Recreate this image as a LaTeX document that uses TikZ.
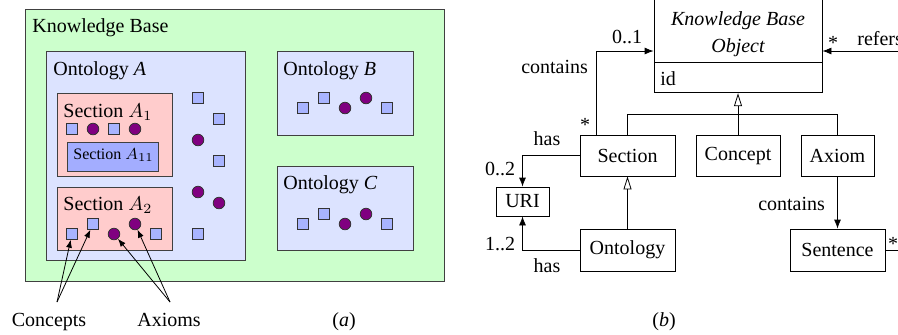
\documentclass[tikz,border=0pt]{standalone}
\usepackage{fontspec}
\setmainfont{Liberation Serif}
\usetikzlibrary{arrows.meta}

\definecolor{kbgreen}{HTML}{CCFFCC}
\definecolor{ontoblue}{HTML}{DCE3FF}
\definecolor{secpink}{HTML}{FFCCCC}
\definecolor{subblue}{HTML}{A3ADFF}
\definecolor{conceptblue}{HTML}{A8B4FF}
\definecolor{axiompurple}{HTML}{800080}

\tikzset{
  region/.style={draw=black!75},
  concept/.style={rectangle, draw=black!80, fill=conceptblue, minimum size=5.3pt, inner sep=0pt},
  axiom/.style={circle, draw=black!80, fill=axiompurple, minimum size=5.8pt, inner sep=0pt},
  umlbox/.style={draw, rectangle, inner sep=0pt},
  title/.style={anchor=base west, inner sep=0pt},
  assoc/.style={-{Latex[length=4.5pt,width=3.5pt]}},
  inherit/.style={-{Triangle[open,length=6.5pt,width=4pt]}},
  pointer/.style={-{Latex[length=4pt,width=3pt]}},
}

\begin{document}
\begin{tikzpicture}[x=0.5pt, y=-0.5pt]
  \useasboundingbox (0,0) rectangle (898,334);
  \clip (0,0) rectangle (898,334);

  % (a) containers
  \draw[region, fill=kbgreen] (25,9) rectangle (444,281);
  \node[title] (kb-title) at (32,32) {Knowledge Base};

  \draw[region, fill=ontoblue] (46,51) rectangle (245,260);
  \node[title] (onto-a) at (53,75) {Ontology \textit{A}};
  \draw[region, fill=ontoblue] (277,51) rectangle (413,135);
  \node[title] (onto-b) at (283,75) {Ontology \textit{B}};
  \draw[region, fill=ontoblue] (277,166) rectangle (413,250);
  \node[title] (onto-c) at (283,189) {Ontology \textit{C}};

  \draw[region, fill=secpink] (57,93) rectangle (172,176);
  \node[title] (sec-a1) at (63,117) {Section $A_1$};
  \draw[region, fill=subblue] (67,142) rectangle (158,171);
  \node[title, font=\footnotesize] (sec-a11) at (73,159) {Section $A_{11}$};
  \draw[region, fill=secpink] (57,187) rectangle (172,250);
  \node[title] (sec-a2) at (63,210) {Section $A_2$};

  % concepts and axioms
  \node[concept] (a1-c1) at (72,129) {};
  \node[axiom] (a1-x1) at (93,129) {};
  \node[concept] (a1-c2) at (114,129) {};
  \node[axiom] (a1-x2) at (135,129) {};

  \node[concept] (a2-c1) at (72,234) {};
  \node[concept] (a2-c2) at (93,224) {};
  \node[axiom] (a2-x1) at (114,234) {};
  \node[axiom] (a2-x2) at (135,224) {};
  \node[concept] (a2-c3) at (156,234) {};

  \node[concept] (oa-c1) at (198,98) {};
  \node[concept] (oa-c2) at (219,119) {};
  \node[axiom] (oa-x1) at (198,140) {};
  \node[concept] (oa-c3) at (219,161) {};
  \node[axiom] (oa-x2) at (198,192) {};
  \node[axiom] (oa-x3) at (219,203) {};
  \node[concept] (oa-c4) at (198,234) {};

  \foreach \o/\y in {b/0, c/116} {
    \node[concept] (o\o-c1) at (303,108+\y) {};
    \node[concept] (o\o-c2) at (324,98+\y) {};
    \node[axiom] (o\o-x1) at (345,108+\y) {};
    \node[axiom] (o\o-x2) at (366,98+\y) {};
    \node[concept] (o\o-c3) at (387,108+\y) {};
  }

  % labels below
  \node[anchor=base] (concepts) at (49,326) {Concepts};
  \node[anchor=base] (axioms) at (169,326) {Axioms};
  \node[anchor=base] (cap-a) at (344,326) {(\textit{a})};
  \coordinate (concepts-fork) at (57,302);
  \coordinate (axioms-fork) at (170,302);
  \draw[pointer] (concepts-fork) -- (a2-c1);
  \draw[pointer] (concepts-fork) -- (a2-c2);
  \draw[pointer] (axioms-fork) -- (a2-x1);
  \draw[pointer] (axioms-fork) -- (a2-x2);

  % (b) class diagram
  \node[umlbox, minimum width=84pt, minimum height=37pt] (kbo) at (738,25) {};
  \node[font=\itshape, align=center] (kbo-name) at (738,34) {Knowledge Base\\[1.5pt]Object};
  \node[umlbox, minimum width=84pt, minimum height=15pt, anchor=north] (kbo-attr) at (kbo.south) {};
  \node[title] (kbo-id) at (660,85) {id};

  \node[umlbox, minimum width=47.5pt, minimum height=20.5pt] (section) at (627.5,155.5) {Section};
  \node[umlbox, minimum width=42pt, minimum height=20.5pt] (concept) at (738,155.5) {Concept};
  \node[umlbox, minimum width=36.5pt, minimum height=20.5pt] (axiom) at (837.5,155.5) {Axiom};
  \node[umlbox, minimum width=26.5pt, minimum height=14.5pt] (uri) at (522.5,201.5) {URI};
  \node[umlbox, minimum width=47.5pt, minimum height=21pt] (ontology) at (627.5,250) {Ontology};
  \node[umlbox, minimum width=47.5pt, minimum height=21pt] (sentence) at (837.5,250) {Sentence};

  % generalisation
  \draw[inherit] (concept.north) -- (kbo-attr.south);
  \draw (section.north) |- (concept.north |- 0,114) -| (axiom.north);
  \draw[inherit] (ontology.north) -- (section.south);

  % associations
  \draw[assoc] (section.north -| 596,0) |- (kbo.west |- 0,51);
  \node (contains-1) at (627,37) {0..1};
  \node[anchor=east] (contains-lbl) at (595,67) {contains};
  \node (contains-m) at (585,125) {*};

  \coordinate (refers-end) at (920,51);
  \draw[assoc] (refers-end) -- (kbo.east |- 0,51);
  \node (refers-m) at (833,43) {*};
  \node[anchor=west, inner sep=0pt] (refers-lbl) at (857,39) {refers};

  \draw[assoc] (section.west) -| (uri.north);
  \node (has-1) at (547,139) {has};
  \node (has-1m) at (500,169) {0..2};
  \draw[assoc] (ontology.west) -| (uri.south);
  \node (has-2m) at (500,244) {1..2};
  \node (has-2) at (547,266) {has};

  \draw[assoc] (axiom.south) -- (sentence.north);
  \node[anchor=east] (contains-2) at (832,204) {contains};

  \coordinate (sentence-end) at (920,250);
  \draw (sentence.east) -- (sentence-end);
  \node (sentence-m) at (893,244) {*};

  \node[anchor=base] (cap-b) at (664,326) {(\textit{b})};
\end{tikzpicture}
\end{document}
